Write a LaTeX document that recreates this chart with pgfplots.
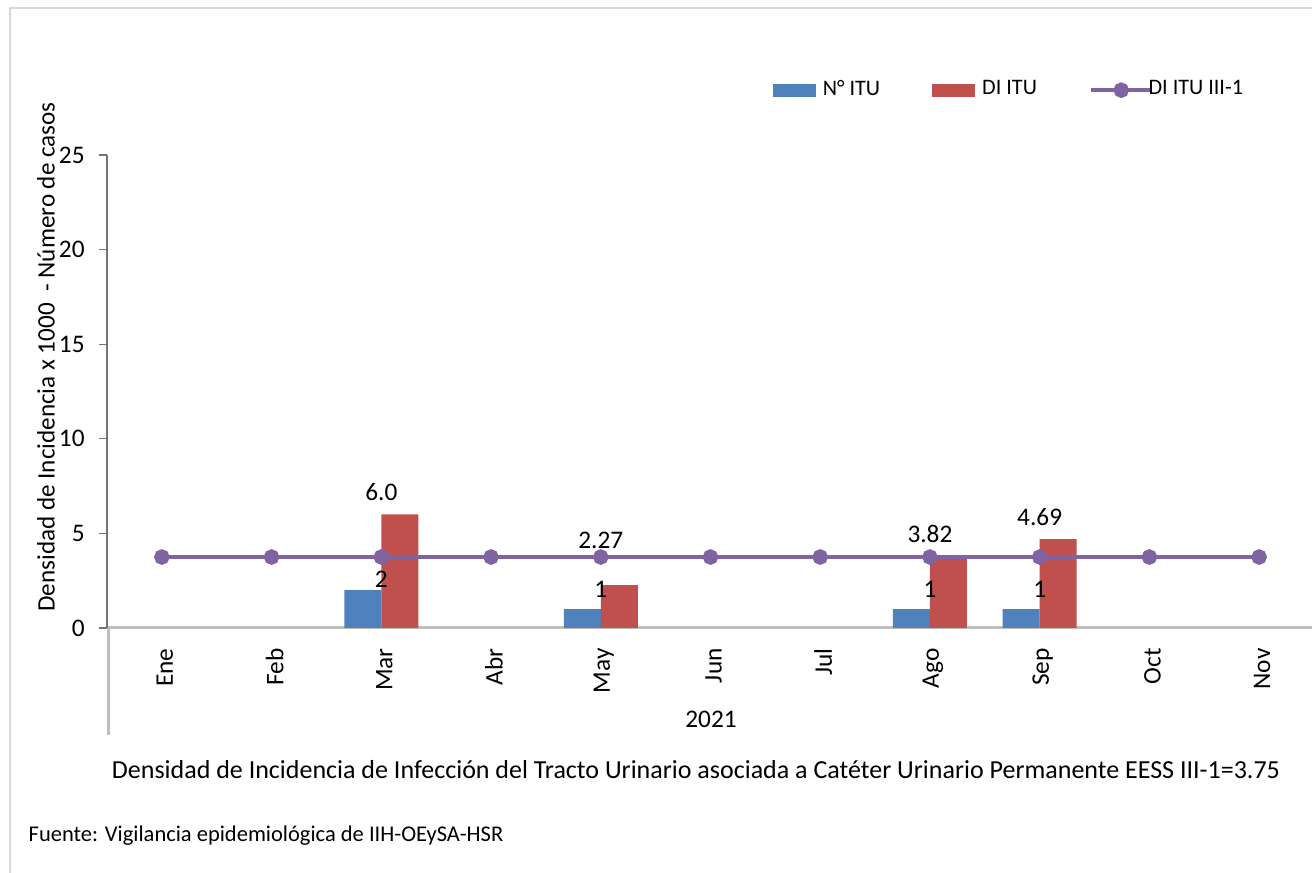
\documentclass[border=0pt]{standalone}
\usepackage{fontspec}
\setmainfont{Carlito}
\usepackage{pgfplots}
\usepackage{pgfplotstable}
\pgfplotsset{compat=1.18}
\definecolor{cblue}{HTML}{4F81BD}
\definecolor{cred}{HTML}{C0504D}
\definecolor{cpurp}{HTML}{8064A2}
\pgfplotstableread{
x y lab off
2 2 2 11
4 1 1 20
7 1 1 20
8 1 1 20
}\nitu
\pgfplotstableread{
x y lab off
2 6.0 6.0 22
4 2.27 2.27 45
7 3.82 3.82 22
8 4.69 4.69 22
}\diitu
\pgfplotstableread{
x y
0 3.75
1 3.75
2 3.75
3 3.75
4 3.75
5 3.75
6 3.75
7 3.75
8 3.75
9 3.75
10 3.75
}\refl
\newcommand{\fs}[1]{\fontsize{#1}{#1}\selectfont}
\begin{document}
\begin{tikzpicture}
\useasboundingbox (0,0) rectangle (13.12cm,8.73cm);
\draw[black!15, line width=0.012cm] (0.10cm,-0.5cm) -- (0.10cm,8.65cm) -- (13.6cm,8.65cm);
\begin{axis}[
  at={(1.07cm,2.45cm)}, anchor=south west,
  scale only axis, width=12.07cm, height=4.73cm,
  xmin=-0.5, xmax=10.5, ymin=0, ymax=25,
  axis x line=bottom, axis y line=left,
  x axis line style={-, draw=black!25, line width=0.03cm},
  y axis line style={-, draw=black!55, line width=0.012cm},
  ytick={0,5,10,15,20,25},
  xtick={0,...,10},
  xticklabels={Ene,Feb,Mar,Abr,May,Jun,Jul,Ago,Sep,Oct,Nov},
  xtick style={draw=none},
  ytick style={draw=black!55, line width=0.012cm},
  tick align=outside, major tick length=0.08cm,
  /pgf/number format/assume math mode=true,
  xticklabel style={rotate=90, anchor=east, font=\fs{7.2}, yshift=-0.03cm},
  yticklabel style={font=\fs{7.2}, anchor=east, xshift=-0.02cm},
  legend style={at={(axis description cs:0.551,1.137)}, anchor=west, draw=none, fill=none,
    legend columns=3, font=\fs{6.3}, inner sep=0pt,
    /tikz/every even column/.append style={column sep=0.45cm}},
  legend cell align=left,
  clip=false,
]
\addplot[ybar, bar width=0.37cm, bar shift=-0.185cm, fill=cblue, draw=none,
  point meta=explicit symbolic,
  visualization depends on={\thisrow{off}\as\off},
  nodes near coords,
  nodes near coords style={anchor=center, yshift=\off*0.01cm, font=\fs{7.2}, text=black},
  legend image code/.code={\fill[cblue] (0cm,-0.065cm) rectangle (0.43cm,0.065cm);}]
  table[x=x, y=y, meta=lab] {\nitu};
\addlegendentry{N° ITU}
\addplot[ybar, bar width=0.37cm, bar shift=0.185cm, fill=cred, draw=none,
  point meta=explicit symbolic,
  visualization depends on={\thisrow{off}\as\off},
  nodes near coords,
  nodes near coords style={anchor=center, yshift=\off*0.01cm, font=\fs{7.2}, text=black},
  legend image code/.code={\fill[cred] (0cm,-0.065cm) rectangle (0.43cm,0.065cm);}]
  table[x=x, y=y, meta=lab] {\diitu};
\addlegendentry{DI ITU}
\addplot[cpurp, line width=0.045cm, mark=*, mark size=0.055cm, mark options={solid, fill=cpurp, draw=none}]
  table[x=x, y=y] {\refl};
\addlegendimage{legend image code/.code={\draw[cpurp, line width=0.045cm] (0cm,0cm) -- (0.5cm,0cm); \fill[cpurp] (0.25cm,0cm) circle (0.055cm);}}
\addlegendentry{\hspace{-0.12cm}DI ITU III-1}
\end{axis}
\draw[black!25, line width=0.03cm] (1.08cm,2.45cm) -- (1.08cm,1.38cm);
\node[font=\fs{7.2}] at (7.11cm,1.54cm) {2021};
\node[rotate=90, font=\fs{7.15}] at (0.46cm,5.16cm) {Densidad de Incidencia x 1000\ \ - Número de casos};
\node[font=\fs{7.4}] at (6.96cm,1.03cm) {Densidad de Incidencia de Infección del Tracto Urinario asociada a Catéter Urinario Permanente EESS III-1=3.75};
\node[font=\fs{6.4}, anchor=west, inner sep=0pt] at (0.28cm,0.37cm) {Fuente: Vigilancia epidemiológica de IIH-OEySA-HSR};
\end{tikzpicture}
\end{document}
